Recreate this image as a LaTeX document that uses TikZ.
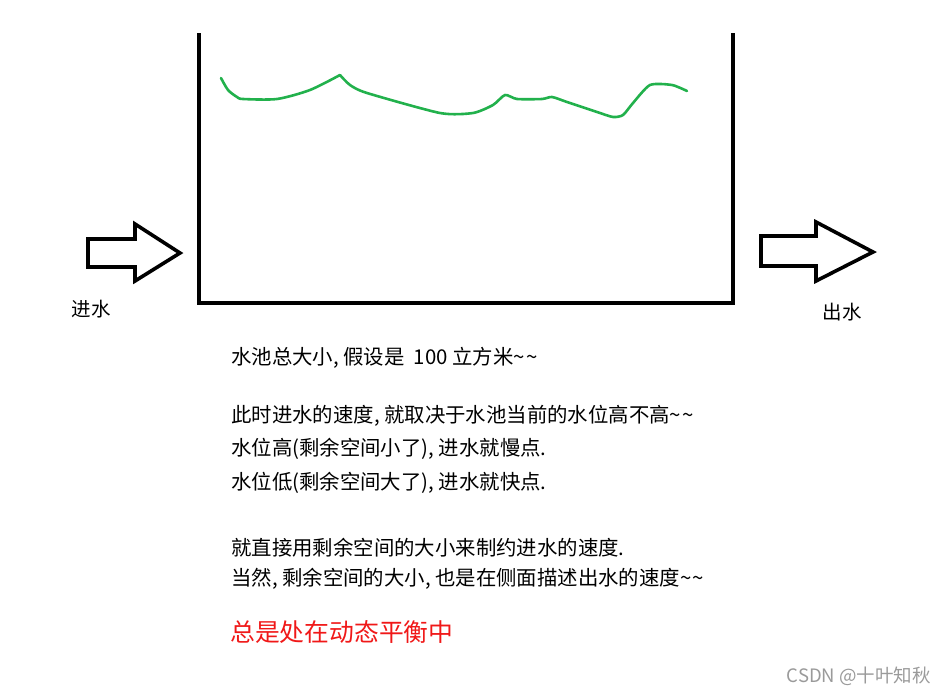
\documentclass[tikz,border=0pt]{standalone}
\usepackage{fontspec}
\setmainfont{Noto Sans CJK SC}
\definecolor{paintgreen}{HTML}{22B14C}
\definecolor{redtxt}{HTML}{F01818}
\definecolor{wmgray}{HTML}{9A9A9A}
\newcommand{\tld}{\char`~\kern1.5pt\char`~}
\tikzset{
  outline/.style={draw=black, line width=3.6pt, line join=miter},
  bodytext/.style={anchor=base west, inner sep=0pt, font=\fontsize{20.4}{24}\selectfont},
  label/.style={anchor=center, inner sep=0pt, font=\fontsize{19.5}{22}\selectfont},
}
\begin{document}
\begin{tikzpicture}[x=1pt,y=-1pt]
\useasboundingbox (0,0) rectangle (946,694);
% tank
\draw[outline] (199,33) -- (199,303) -- (733,303) -- (733,33);
% water surface
\draw[paintgreen, line width=2.6pt, line cap=round, line join=round]
  plot[smooth, tension=0.45] coordinates {(221,78) (228,90) (237,97) (243,99) (277,99) (310,90) (340,75)}
  plot[smooth, tension=0.4] coordinates {(340,75) (350,85) (367,93) (440,113) (473,113) (493,105) (505,95) (517,99) (542,99) (552,97) (567,102) (597,112) (613,117) (623,115) (633,103) (650,85) (672,85) (687,91)};
% inflow arrow
\draw[outline] (88,239) -- (135,239) -- (135,224) -- (180,253) -- (135,281) -- (135,267) -- (88,267) -- cycle;
% outflow arrow
\draw[outline] (761,236) -- (816,236) -- (816,222) -- (873,252) -- (816,281) -- (816,266) -- (761,266) -- cycle;
\node[label] (in) at (91,309) {进水};
\node[label] (out) at (842,312) {出水};
\node[bodytext] (t1) at (231,364) {水池总大小, 假设是\ \ 100 立方米\tld};
\node[bodytext] (t2) at (231,422) {此时进水的速度, 就取决于水池当前的水位高不高\tld};
\node[bodytext] (t3) at (231,455) {水位高(剩余空间小了), 进水就慢点.};
\node[bodytext] (t4) at (231,489) {水位低(剩余空间大了), 进水就快点.};
\node[bodytext] (t5) at (231,555) {就直接用剩余空间的大小来制约进水的速度.};
\node[bodytext] (t6) at (231,585) {当然, 剩余空间的大小, 也是在侧面描述出水的速度\tld};
\node[anchor=base west, inner sep=0pt, text=redtxt, font=\fontsize{24.8}{28}\selectfont] (t7) at (230,641) {总是处在动态平衡中};
\node[anchor=base east, inner sep=0pt, text=wmgray, font=\fontsize{18.5}{20}\selectfont] (wm) at (931,682) {CSDN @十叶知秋};
\end{tikzpicture}
\end{document}
